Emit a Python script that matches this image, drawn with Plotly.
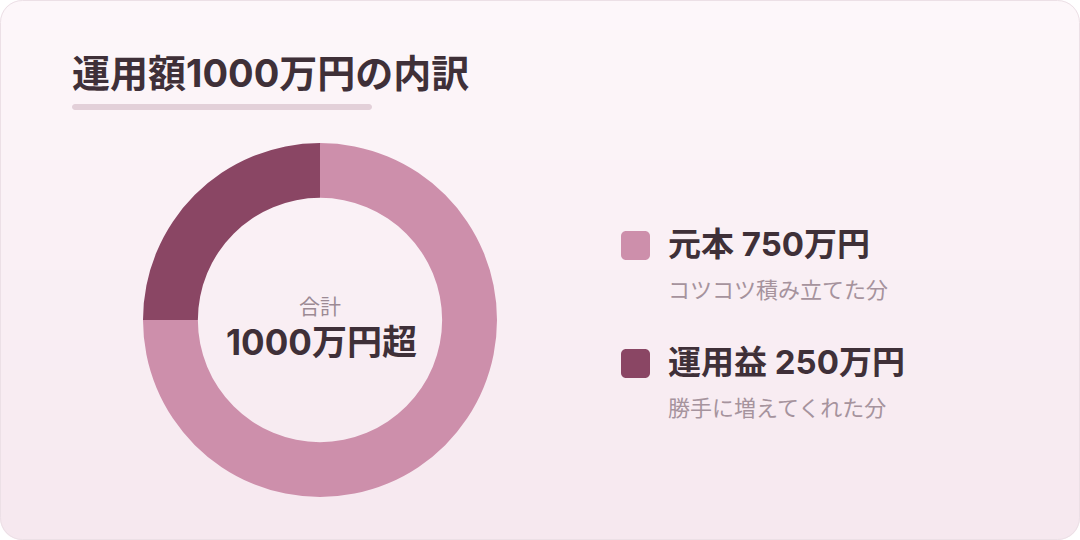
import plotly.graph_objects as go

# datos del gráfico
categorias = ['元本', '運用益']
valores = [750, 250]
descripciones = ['コツコツ積み立てた分', '勝手に増えてくれた分']
colores = ['#cd8fab', '#8a4664']
titulo = '運用額1000万円の内訳'
centro_etiqueta = '合計'
centro_valor = '1000万円超'

W, H = 1080, 540
FUENTE = 'Inter, Noto Sans CJK JP'
FUENTE_SUB = 'Noto Sans CJK JP'
TEXTO = '#3f3038'
GRIS = '#a6939d'


def px(x, y):
    # pixeles -> coordenadas del papel
    return x / W, 1 - y / H


def p(x, y):
    a, b = px(x, y)
    return f'{a:.5f},{b:.5f}'


def rect_redondeado(x0, y0, x1, y1, r):
    k = 0.5523 * r
    d = f'M{p(x0 + r, y0)} L{p(x1 - r, y0)} '
    d += f'C{p(x1 - r + k, y0)} {p(x1, y0 + r - k)} {p(x1, y0 + r)} '
    d += f'L{p(x1, y1 - r)} '
    d += f'C{p(x1, y1 - r + k)} {p(x1 - r + k, y1)} {p(x1 - r, y1)} '
    d += f'L{p(x0 + r, y1)} '
    d += f'C{p(x0 + r - k, y1)} {p(x0, y1 - r + k)} {p(x0, y1 - r)} '
    d += f'L{p(x0, y0 + r)} '
    d += f'C{p(x0, y0 + r - k)} {p(x0 + r - k, y0)} {p(x0 + r, y0)} Z'
    return d


def esquina(cx, cy, sx, sy, r):
    # máscara blanca fuera del arco de la esquina
    k = 0.5523 * r
    d = f'M{p(cx, cy)} L{p(cx + sx * r, cy)} '
    d += f'C{p(cx + sx * (r - k), cy)} {p(cx, cy + sy * (r - k))} {p(cx, cy + sy * r)} Z'
    return d


fig = go.Figure(go.Pie(
    labels=categorias,
    values=valores,
    marker=dict(colors=colores, line=dict(width=0)),
    hole=0.69,
    sort=False,
    direction='clockwise',
    rotation=0,
    textinfo='none',
    hoverinfo='label+value',
    showlegend=False,
    domain=dict(x=[143 / W, 497 / W], y=[1 - 497 / H, 1 - 143 / H]),
))

shapes = []
# fondo degradado en franjas
n = 54
c0 = (253, 247, 250)
c1 = (246, 232, 239)
for i in range(n):
    t = i / (n - 1)
    c = tuple(round(c0[j] + (c1[j] - c0[j]) * t) for j in range(3))
    y0 = i * H / n
    y1 = (i + 1) * H / n + 0.6
    shapes.append(dict(type='rect', xref='paper', yref='paper', layer='below',
                       x0=0, x1=1, y0=1 - y1 / H, y1=1 - y0 / H,
                       fillcolor='rgb(%d,%d,%d)' % c, line=dict(width=0)))
R = 22
for cx, cy, sx, sy in [(0, 0, 1, 1), (W, 0, -1, 1), (0, H, 1, -1), (W, H, -1, -1)]:
    shapes.append(dict(type='path', xref='paper', yref='paper', layer='below',
                       path=esquina(cx, cy, sx, sy, R), fillcolor='white', line=dict(width=0)))
shapes.append(dict(type='path', xref='paper', yref='paper', layer='below',
                   path=rect_redondeado(0.5, 0.5, W - 0.5, H - 0.5, R),
                   fillcolor='rgba(0,0,0,0)', line=dict(color='#ece0e6', width=1)))

# subrayado del título
shapes.append(dict(type='path', xref='paper', yref='paper', layer='below',
                   path=rect_redondeado(72, 104, 372, 110, 3),
                   fillcolor='#e3d0d9', line=dict(width=0)))

annotations = [
    dict(text=f'<b>{titulo}</b>', x=70 / W, y=1 - 73 / H, xref='paper', yref='paper',
         xanchor='left', yanchor='middle', showarrow=False,
         font=dict(family=FUENTE, size=38, color=TEXTO)),
    dict(text=centro_etiqueta, x=320 / W, y=1 - 305 / H, xref='paper', yref='paper',
         xanchor='center', yanchor='middle', showarrow=False,
         font=dict(family=FUENTE_SUB, size=21, color='#9c8a94')),
    dict(text=f'<b>{centro_valor}</b>', x=321 / W, y=1 - 342 / H, xref='paper', yref='paper',
         xanchor='center', yanchor='middle', showarrow=False,
         font=dict(family=FUENTE, size=35, color=TEXTO)),
]

# leyenda a la derecha
y_items = [246, 364]
for cat, val, desc, col, yc in zip(categorias, valores, descripciones, colores, y_items):
    shapes.append(dict(type='path', xref='paper', yref='paper',
                       path=rect_redondeado(621, yc - 15, 650, yc + 14, 5),
                       fillcolor=col, line=dict(width=0)))
    annotations.append(dict(text=f'<b>{cat} {val}万円</b>', x=666 / W, y=1 - (yc - 2) / H,
                            xref='paper', yref='paper', xanchor='left', yanchor='middle',
                            showarrow=False, font=dict(family=FUENTE, size=33, color=TEXTO)))
    annotations.append(dict(text=desc, x=666 / W, y=1 - (yc + 42) / H,
                            xref='paper', yref='paper', xanchor='left', yanchor='middle',
                            showarrow=False, font=dict(family=FUENTE_SUB, size=22, color=GRIS)))

fig.update_layout(
    width=W, height=H,
    margin=dict(l=0, r=0, t=0, b=0),
    paper_bgcolor='white',
    plot_bgcolor='rgba(0,0,0,0)',
    shapes=shapes,
    annotations=annotations,
)

# quitar el margen del body para que la tarjeta llene la ventana
fig.write_html('out.html', config={'displayModeBar': False},
               post_script="document.body.style.margin='0';")
